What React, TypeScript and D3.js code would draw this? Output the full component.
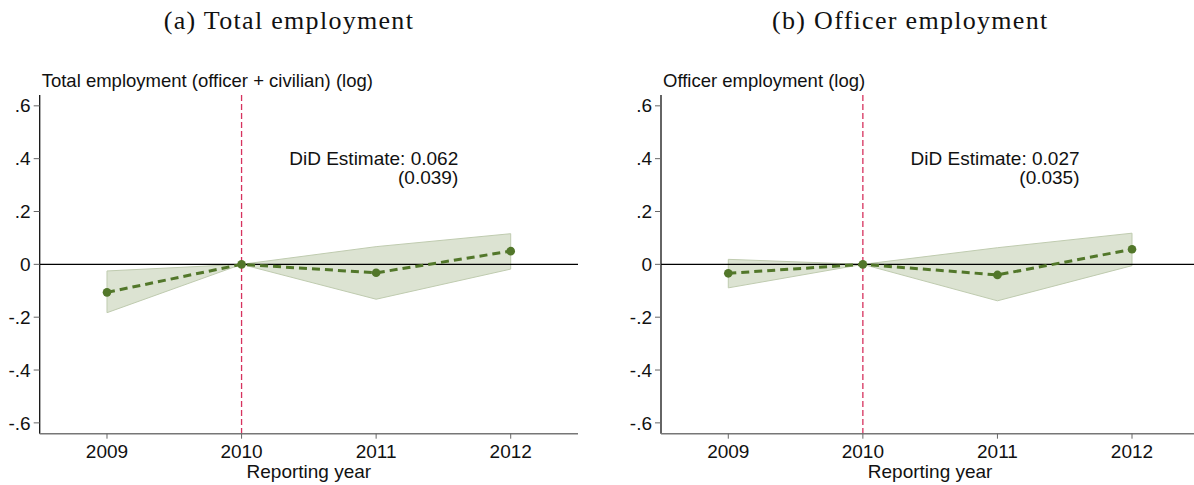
import React from "react";
import * as d3 from "d3";

// Event-study coefficients relative to the 2010 reference year
const years = [2009, 2010, 2011, 2012];
const yTickValues = [-0.6, -0.4, -0.2, 0, 0.2, 0.4, 0.6];
const yTickLabels = ["-.6", "-.4", "-.2", "0", ".2", ".4", ".6"];

const totalCoef = [-0.106, 0, -0.032, 0.05];
const totalLow = [-0.183, 0, -0.132, -0.018];
const totalHigh = [-0.025, 0, 0.067, 0.116];

const officerCoef = [-0.034, 0, -0.04, 0.057];
const officerLow = [-0.089, 0, -0.138, -0.005];
const officerHigh = [0.019, 0, 0.063, 0.118];

const panelTitles = ["(a) Total employment", "(b) Officer employment"];
const yTitles = ["Total employment (officer + civilian) (log)", "Officer employment (log)"];
const didEstimates = ["0.062", "0.027"];
const didErrors = ["(0.039)", "(0.035)"];

const W = 1194;
const H = 485;
const PANEL_SHIFT = 621.3;

const SANS = "'Liberation Sans', Arial, Helvetica, sans-serif";
const SERIF = "'Liberation Serif', 'Times New Roman', serif";
const FS = 19;
const GREEN = "#52772a";
const BAND_FILL = "#dce3d2";
const BAND_EDGE = "#bfcbaf";
const REF_RED = "#d6325e";

type PanelProps = {
  ox: number;
  title: string;
  yTitle: string;
  coef: number[];
  low: number[];
  high: number[];
  did: string;
  se: string;
};

function Panel({ ox, title, yTitle, coef, low, high, did, se }: PanelProps) {
  const x = d3.scaleLinear().domain([2008.5, 2012.5]).range([ox + 39.7, ox + 578]);
  const y = d3.scaleLinear().domain([-0.641, 0.641]).range([433.7, 95]);

  const idx = years.map((_, i) => i);
  const band = d3
    .area<number>()
    .x((i) => x(years[i]))
    .y0((i) => y(low[i]))
    .y1((i) => y(high[i]));
  const line = d3
    .line<number>()
    .x((i) => x(years[i]))
    .y((i) => y(coef[i]));

  const [x0, x1] = x.range();
  const [yBottom, yTop] = y.range();

  return (
    <g>
      <text
        x={ox + 289}
        y={29}
        textAnchor="middle"
        fontFamily={SERIF}
        fontSize={26}
        letterSpacing={1.3}
        fill="#111"
      >
        {title}
      </text>

      <text x={x0 + 2} y={87} fontFamily={SANS} fontSize={18.5} fill="#111">
        {yTitle}
      </text>

      {/* confidence band */}
      <path d={band(idx) ?? ""} fill={BAND_FILL} stroke={BAND_EDGE} strokeWidth={1} />

      {/* zero reference */}
      <line x1={x0} x2={x1} y1={y(0)} y2={y(0)} stroke="#000" strokeWidth={1.2} />

      {/* reference year marker */}
      <line
        x1={x(2010)}
        x2={x(2010)}
        y1={yTop}
        y2={yBottom}
        stroke={REF_RED}
        strokeWidth={1.3}
        strokeDasharray="6,3"
      />

      {/* coefficient path */}
      <path d={line(idx) ?? ""} fill="none" stroke={GREEN} strokeWidth={3} strokeDasharray="8,5" />
      {idx.map((i) => (
        <circle key={i} cx={x(years[i])} cy={y(coef[i])} r={4.3} fill={GREEN} />
      ))}

      {/* y axis */}
      <line x1={x0} x2={x0} y1={yTop} y2={yBottom} stroke="#111" strokeWidth={1.3} />
      {yTickValues.map((v, i) => (
        <g key={v}>
          <line x1={x0 - 6} x2={x0} y1={y(v)} y2={y(v)} stroke="#666" strokeWidth={1} />
          <text
            x={x0 - 9}
            y={y(v)}
            dy="0.35em"
            textAnchor="end"
            fontFamily={SANS}
            fontSize={FS}
            fill="#111"
          >
            {yTickLabels[i]}
          </text>
        </g>
      ))}

      {/* x axis */}
      <line x1={x0} x2={x1} y1={yBottom} y2={yBottom} stroke="#777" strokeWidth={1.5} />
      {years.map((yr) => (
        <g key={yr}>
          <line x1={x(yr)} x2={x(yr)} y1={yBottom} y2={yBottom + 5} stroke="#666" strokeWidth={1} />
          <text
            x={x(yr)}
            y={458}
            textAnchor="middle"
            fontFamily={SANS}
            fontSize={FS}
            fill="#111"
          >
            {yr}
          </text>
        </g>
      ))}
      <text
        x={x(2010.5)}
        y={478}
        textAnchor="middle"
        fontFamily={SANS}
        fontSize={FS}
        fill="#111"
      >
        Reporting year
      </text>

      {/* DiD annotation */}
      <text x={x(2011.61)} y={165} textAnchor="end" fontFamily={SANS} fontSize={FS} fill="#111">
        DiD Estimate: {did}
      </text>
      <text x={x(2011.61)} y={184} textAnchor="end" fontFamily={SANS} fontSize={FS} fill="#111">
        {se}
      </text>
    </g>
  );
}

export default function App() {
  return (
    <svg
      width={W}
      height={H}
      viewBox={`0 0 ${W} ${H}`}
      style={{ position: "absolute", left: 0, top: 0, background: "#fff" }}
    >
      <rect width={W} height={H} fill="#fff" />
      <Panel
        ox={0}
        title={panelTitles[0]}
        yTitle={yTitles[0]}
        coef={totalCoef}
        low={totalLow}
        high={totalHigh}
        did={didEstimates[0]}
        se={didErrors[0]}
      />
      <Panel
        ox={PANEL_SHIFT}
        title={panelTitles[1]}
        yTitle={yTitles[1]}
        coef={officerCoef}
        low={officerLow}
        high={officerHigh}
        did={didEstimates[1]}
        se={didErrors[1]}
      />
    </svg>
  );
}
